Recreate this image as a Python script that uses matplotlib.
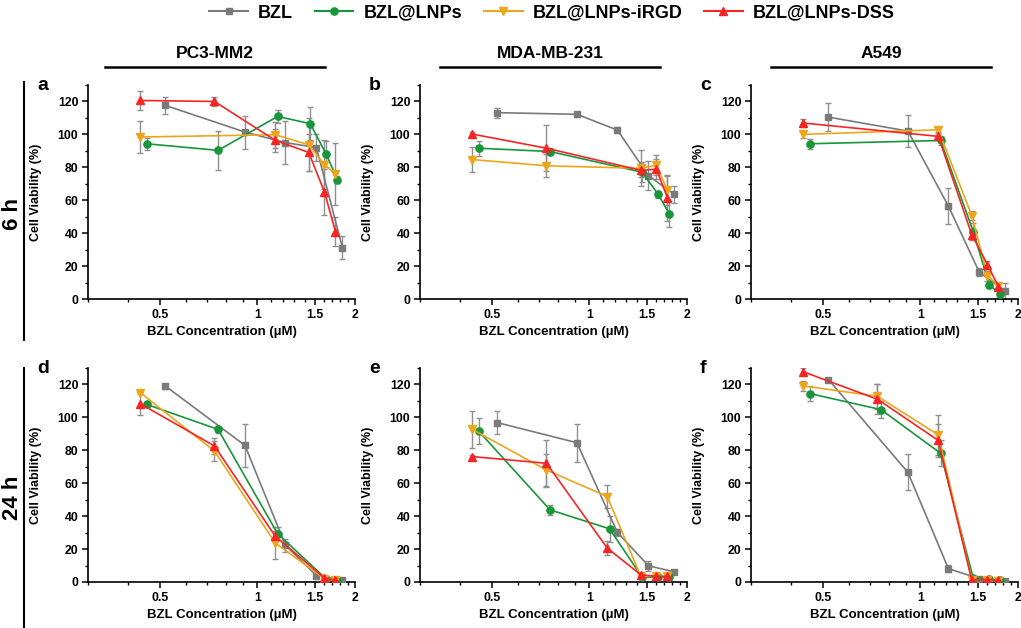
import numpy as np
import matplotlib
matplotlib.use("Agg")
import matplotlib.pyplot as plt
from matplotlib.lines import Line2D
from matplotlib.ticker import FixedLocator, NullFormatter, FixedFormatter, MultipleLocator

plt.rcParams['font.family'] = ['Liberation Sans', 'DejaVu Sans']
plt.rcParams['font.weight'] = 'bold'

# ---------------- data ----------------
SERIES = ["BZL", "BZL@LNPs", "BZL@LNPs-iRGD", "BZL@LNPs-DSS"]
COLORS = ["#7a7a7a", "#17963a", "#eda51c", "#f52525"]
MARKERS = ["s", "o", "v", "^"]

# concentrations (uM) for each formulation
X_BZL = [0.52, 0.915, 1.22, 1.52, 1.83]
X_LNP = [0.455, 0.756, 1.154, 1.455, 1.63, 1.765]
X_IRGD = [0.435, 0.737, 1.135, 1.44, 1.61, 1.74]
X_DSS = [0.435, 0.737, 1.135, 1.44, 1.61, 1.74]

PANEL_LETTERS = ["a", "b", "c", "d", "e", "f"]
CELL_LINES = ["PC3-MM2", "MDA-MB-231", "A549"]
TIMES = ["6 h", "24 h"]
X_TICKS = [0.5, 1, 1.5, 2]
X_TICK_LABELS = ["0.5", "1", "1.5", "2"]
Y_TICKS = [0, 20, 40, 60, 80, 100, 120]

# panel a (PC3-MM2, 6 h)
a_bzl = [117.6, 101.4, 95, 92, 31];          a_bzl_err = [5, 10, 13, 8, 7]
a_lnp = [94.3, 90.3, 110.9, 106.5, 88, 72.5]; a_lnp_err = [3.5, 12, 4, 10, 8, 2]
a_irgd = [98.4, None, 99.8, 93.7, 81.6, 76];  a_irgd_err = [9.5, 0, 8, 16, 15, 19]
a_dss = [120.6, 120, 96.4, 89, 65, 41];       a_dss_err = [5.5, 3, 7, 11, 14, 9]

# panel b (MDA-MB-231, 6 h)
b_bzl = [113.2, 112.2, 102.6, 75, 63.5];      b_bzl_err = [3, 1.5, 2, 9, 5]
b_lnp = [91.6, 89.6, None, 77, 63.5, 51.7];   b_lnp_err = [4.5, 2, 0, 6, 2, 8]
b_irgd = [84.7, 80.9, None, 79.4, 81.3, 66];  b_irgd_err = [7.5, 7, 0, 11, 6, 9]
b_dss = [100.2, 91.6, None, 78.2, 78.8, 61.5]; b_dss_err = [1.5, 14, 0, 4, 6, 14]

# panel c (A549, 6 h)
c_bzl = [110.5, 102, 56.4, 16.2, 4.7];        c_bzl_err = [8.5, 9.5, 11, 2.5, 5]
c_lnp = [94.3, None, 96.3, 41, 8.7, 3];       c_lnp_err = [3, 0, 3, 5, 2, 1]
c_irgd = [100, None, 102.8, 50.7, 14.2, 8];   c_irgd_err = [2, 0, 1.5, 3, 3, 2]
c_dss = [106.9, None, 98.8, 39.1, 20.9, 7.5]; c_dss_err = [2.5, 0, 2, 3, 2, 2]

# panel d (PC3-MM2, 24 h)
d_bzl = [119, 83, 22.3, 3.9, 1];              d_bzl_err = [1.5, 13, 4, 1.5, 1]
d_lnp = [107.9, 92.7, 29.4, None, 1.8, 1];    d_lnp_err = [1.5, 2, 4, 0, 1, 0.5]
d_irgd = [115, 79.5, 23.7, None, 2, 1];       d_irgd_err = [1, 6, 10, 0, 1, 0.5]
d_dss = [108.3, 82.6, 27.8, None, 2.4, 1];    d_dss_err = [7, 5, 3, 0, 1, 0.5]

# panel e (MDA-MB-231, 24 h)
e_bzl = [96.8, 84.6, 30.1, 9.9, 6.1];         e_bzl_err = [7, 11.5, 2, 3, 1]
e_lnp = [91.7, 43.8, 32.3, 2.8, 3, 3];        e_lnp_err = [8, 3, 8, 1, 1, 1]
e_irgd = [92.7, 68, 51.9, 3.4, 3.5, 3.5];     e_irgd_err = [11, 10, 7, 1, 1, 1]
e_dss = [76.2, 72.1, 20.6, 4.4, 3.4, 3.4];    e_dss_err = [1, 14, 4.5, 1, 1, 1]

# panel f (A549, 24 h)
f_bzl = [123, 66.6, 8.1, 2, 0.5];             f_bzl_err = [1, 11, 2, 1, 0.5]
f_lnp = [114.5, 104.7, 78.2, 2.4, 1.8, 1];    f_lnp_err = [4.5, 5, 8, 1, 1, 0.5]
f_irgd = [119.1, 112.8, 89.4, 1.5, 1, 0.8];   f_irgd_err = [3, 7.5, 12, 0.5, 0.5, 0.5]
f_dss = [127.7, 111, 86, 1, 1.5, 1];          f_dss_err = [2, 9, 10, 0.5, 0.5, 0.5]

PANEL_DATA = [
    [(a_bzl, a_bzl_err), (a_lnp, a_lnp_err), (a_irgd, a_irgd_err), (a_dss, a_dss_err)],
    [(b_bzl, b_bzl_err), (b_lnp, b_lnp_err), (b_irgd, b_irgd_err), (b_dss, b_dss_err)],
    [(c_bzl, c_bzl_err), (c_lnp, c_lnp_err), (c_irgd, c_irgd_err), (c_dss, c_dss_err)],
    [(d_bzl, d_bzl_err), (d_lnp, d_lnp_err), (d_irgd, d_irgd_err), (d_dss, d_dss_err)],
    [(e_bzl, e_bzl_err), (e_lnp, e_lnp_err), (e_irgd, e_irgd_err), (e_dss, e_dss_err)],
    [(f_bzl, f_bzl_err), (f_lnp, f_lnp_err), (f_irgd, f_irgd_err), (f_dss, f_dss_err)],
]
X_SERIES = [X_BZL, X_LNP, X_IRGD, X_DSS]

# ---------------- layout ----------------
W, H = 1021, 628
fig = plt.figure(figsize=(W / 100, H / 100), dpi=100)


def fx(px):
    return px / W


def fy(py):
    return 1 - py / H


col_left = [88, 420, 751]
ax_w = 267
row_top = [85, 368]
ax_h = 214
err_col = "#8f8f8f"
msizes = [4.8, 5.2, 5.6, 5.6]

for idx in range(6):
    r, c = divmod(idx, 3)
    left = col_left[c]
    top = row_top[r]
    ax = fig.add_axes([fx(left), fy(top + ax_h), ax_w / W, ax_h / H])
    for s in range(4):
        ys, es = PANEL_DATA[idx][s]
        xs = X_SERIES[s]
        pts = [(x, y, e) for x, y, e in zip(xs, ys, es) if y is not None]
        px_ = [p[0] for p in pts]
        py_ = [p[1] for p in pts]
        pe_ = [p[2] for p in pts]
        ax.errorbar(px_, py_, yerr=pe_, fmt='none', ecolor=err_col,
                    elinewidth=1.0, capsize=2.2, capthick=1.0, zorder=2)
        ax.plot(px_, py_, color=COLORS[s], lw=1.2, marker=MARKERS[s],
                ms=msizes[s], mfc=COLORS[s], mec=COLORS[s], zorder=3 + s)
    ax.set_xscale('log')
    ax.set_xlim(0.3, 2.0)
    ax.set_ylim(0, 130)
    ax.xaxis.set_major_locator(FixedLocator(X_TICKS))
    ax.xaxis.set_major_formatter(FixedFormatter(X_TICK_LABELS))
    ax.xaxis.set_minor_locator(FixedLocator(np.arange(0.3, 2.01, 0.1)))
    ax.xaxis.set_minor_formatter(NullFormatter())
    ax.yaxis.set_major_locator(FixedLocator(Y_TICKS))
    ax.yaxis.set_minor_locator(MultipleLocator(10))
    for sp in ['top', 'right']:
        ax.spines[sp].set_visible(False)
    for sp in ['left', 'bottom']:
        ax.spines[sp].set_linewidth(1.2)
    ax.tick_params(which='major', direction='out', length=4, width=1.1,
                   labelsize=8.8, pad=3)
    ax.tick_params(which='minor', direction='out', length=2.2, width=1.0)
    for lab in ax.get_xticklabels() + ax.get_yticklabels():
        lab.set_fontweight('bold')
    ax.set_ylabel("Cell Viability (%)", fontsize=9, fontweight='bold')
    ax.yaxis.set_label_coords(-46 / ax_w, 0.5)
    ax.set_xlabel("BZL Concentration (\u00b5M)", fontsize=9.5, fontweight='bold')
    ax.xaxis.set_label_coords(0.5, -27 / ax_h)
    fig.text(fx(left - 51), fy(top - 8), PANEL_LETTERS[idx], fontsize=14,
             fontweight='bold', ha='left', va='top')

# column titles and lines
title_cx = [215, 550, 881]
for c in range(3):
    fig.text(fx(title_cx[c]), fy(53), CELL_LINES[c], fontsize=12.5,
             fontweight='bold', ha='center', va='center')
    fig.add_artist(Line2D([fx(title_cx[c] - 110), fx(title_cx[c] + 110)],
                          [fy(67), fy(67)], color='black', lw=1.8))

# row labels and vertical lines
row_cy = [214, 498]
row_lines = [(82, 340), (368, 628)]
for r in range(2):
    fig.text(fx(12), fy(row_cy[r]), TIMES[r], fontsize=16, fontweight='bold',
             rotation=90, ha='center', va='center')
    fig.add_artist(Line2D([fx(24), fx(24)], [fy(row_lines[r][0]), fy(row_lines[r][1])],
                          color='black', lw=1.5))

# legend
handles = [Line2D([], [], color=COLORS[s], lw=1.5, marker=MARKERS[s], ms=msizes[s],
                  mfc=COLORS[s], mec=COLORS[s]) for s in range(4)]
fig.legend(handles, SERIES, loc='center', bbox_to_anchor=(fx(552), fy(13)), ncol=4,
           frameon=False, prop={'size': 13, 'weight': 'bold'}, handlelength=2.15,
           columnspacing=1.2, handletextpad=0.55, borderaxespad=0)

fig.savefig("out.png", dpi=100)
